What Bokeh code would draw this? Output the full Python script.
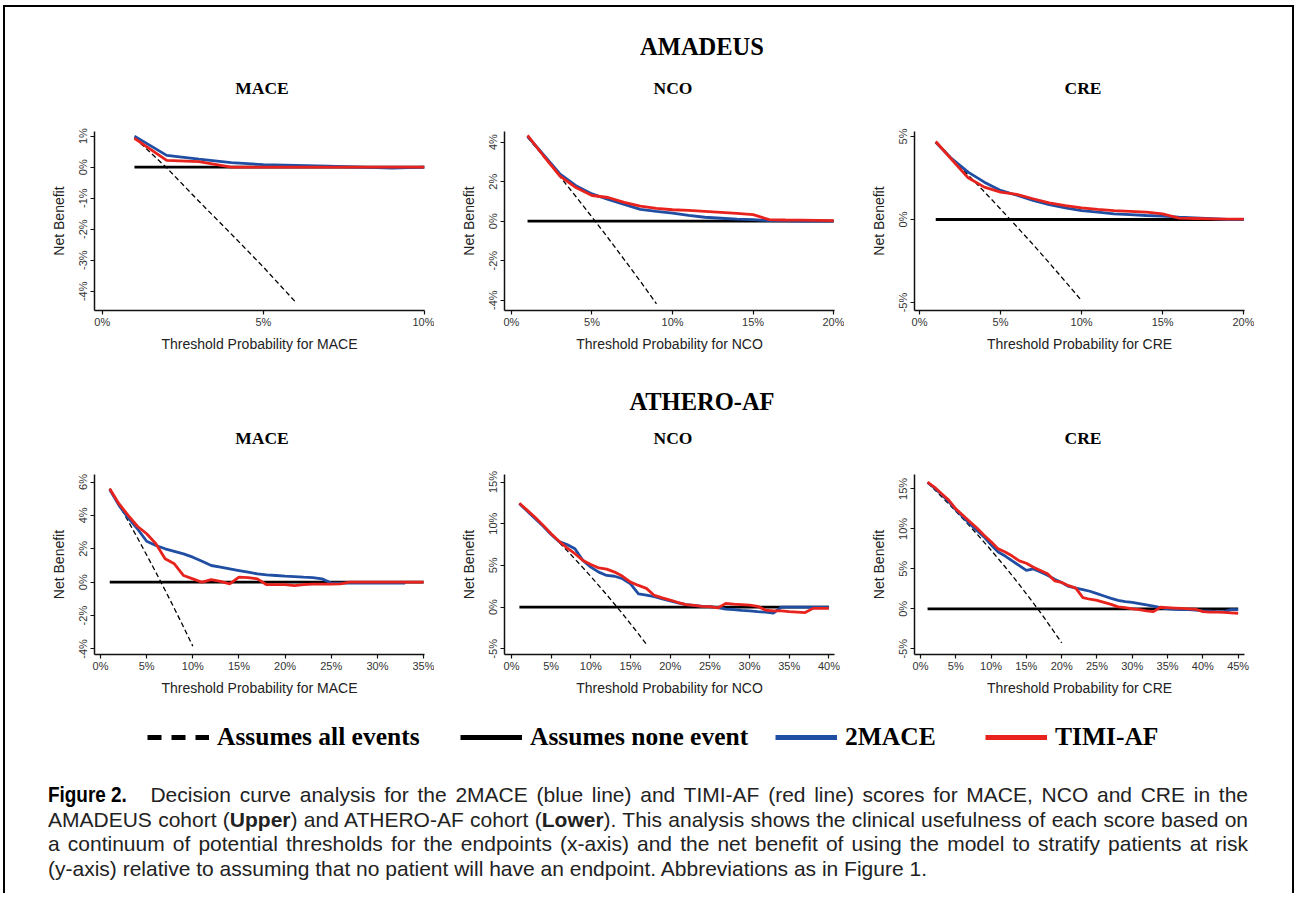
from bokeh.plotting import figure
from bokeh.models import (Range1d, FixedTicker, PrintfTickFormatter, Div, Legend,
                          LegendItem, ColumnDataSource, Spacer)
from bokeh.layouts import row, column
from bokeh.embed import file_html
from bokeh.resources import INLINE

# ---------------- data (percent units) ----------------
# AMADEUS - MACE
am_mace_x = [1, 2, 3, 4, 5, 6, 7, 8, 9, 10]
am_mace_2mace = [1.0, 0.38, 0.26, 0.15, 0.08, 0.06, 0.03, 0.0, -0.03, 0.0]
am_mace_timi = [0.93, 0.22, 0.18, 0.0, 0.0, 0.0, 0.0, 0.0, 0.0, 0.0]
am_mace_all_x = [1, 2, 3, 4, 5, 6]
am_mace_all_y = [0.95, -0.02, -1.1, -2.15, -3.22, -4.35]
am_mace_none_x = [1, 10]

# AMADEUS - NCO
am_nco_x = list(range(1, 21))
am_nco_2mace = [4.3, 3.35, 2.4, 1.8, 1.38, 1.1, 0.85, 0.6, 0.5, 0.41,
                0.3, 0.2, 0.15, 0.1, 0.08, 0.03, 0.02, 0.0, 0.0, 0.0]
am_nco_timi = [4.34, 3.3, 2.3, 1.7, 1.3, 1.2, 0.95, 0.76, 0.65, 0.58,
               0.55, 0.5, 0.45, 0.4, 0.33, 0.08, 0.06, 0.05, 0.04, 0.03]
am_nco_all_x = [1, 2, 3, 4, 5, 6, 7, 8, 9]
am_nco_all_y = [4.24, 3.27, 2.27, 1.25, 0.21, -0.85, -1.94, -3.04, -4.18]
am_nco_none_x = [1, 20]

# AMADEUS - CRE
am_cre_x = list(range(1, 21))
am_cre_2mace = [4.65, 3.65, 2.85, 2.25, 1.75, 1.46, 1.15, 0.89, 0.7, 0.54,
                0.44, 0.34, 0.29, 0.24, 0.2, 0.14, 0.1, 0.05, 0.0, 0.0]
am_cre_timi = [4.7, 3.6, 2.51, 1.95, 1.65, 1.51, 1.25, 1.0, 0.84, 0.7,
               0.61, 0.54, 0.49, 0.44, 0.34, 0.08, 0.06, 0.04, 0.02, 0.02]
am_cre_all_x = [1, 2, 3, 4, 5, 6, 7, 8, 9, 10]
am_cre_all_y = [4.65, 3.67, 2.68, 1.67, 0.63, -0.43, -1.5, -2.61, -3.74, -4.89]
am_cre_none_x = [1, 20]

# ATHERO-AF - MACE
at_mace_x = list(range(1, 36))
at_mace_2mace_x = list(range(1, 34))
at_mace_2mace = [5.55, 4.6, 3.85, 3.2, 2.45, 2.2, 2.0, 1.85, 1.7, 1.5,
                 1.25, 1.0, 0.9, 0.8, 0.7, 0.6, 0.5, 0.44, 0.4, 0.36,
                 0.33, 0.3, 0.28, 0.2, -0.05, -0.05, -0.05, -0.05, -0.05, -0.05,
                 -0.05, -0.05, -0.05]
at_mace_timi = [5.6, 4.7, 4.0, 3.35, 2.9, 2.3, 1.4, 1.1, 0.4, 0.2,
                0.0, 0.15, 0.05, -0.1, 0.3, 0.28, 0.2, -0.15, -0.15, -0.15,
                -0.2, -0.15, -0.12, -0.12, -0.12, -0.1, 0.0, 0.0, 0.0, 0.0,
                0.0, 0.0, 0.0, 0.0, 0.0]
at_mace_all_x = [1, 2, 3, 4, 5, 6, 7, 8, 9, 10]
at_mace_all_y = [5.61, 4.64, 3.66, 2.66, 1.63, 0.59, -0.48, -1.57, -2.69, -3.83]
at_mace_none_x = [1, 35]

# ATHERO-AF - NCO
at_nco_x = list(range(1, 41))
at_nco_2mace = [12.4, 11.5, 10.6, 9.7, 8.7, 7.85, 7.5, 7.0, 5.6, 4.8,
                4.2, 3.8, 3.7, 3.4, 2.8, 1.6, 1.45, 1.25, 1.0, 0.75,
                0.5, 0.3, 0.2, 0.1, 0.05, -0.05, -0.25, -0.3, -0.4, -0.45,
                -0.55, -0.6, -0.72, 0.0, 0.0, 0.0, 0.0, 0.0, 0.0, 0.0]
at_nco_timi = [12.45, 11.6, 10.75, 9.8, 8.8, 7.9, 7.1, 6.4, 5.6, 5.1,
               4.7, 4.55, 4.2, 3.7, 3.0, 2.6, 2.25, 1.4, 1.1, 0.85,
               0.55, 0.3, 0.2, 0.1, 0.05, -0.1, 0.45, 0.35, 0.3, 0.25,
               0.1, -0.35, -0.45, -0.45, -0.55, -0.6, -0.65, -0.15, -0.15, -0.15]
at_nco_all_x = list(range(1, 18))
at_nco_all_y = [12.42, 11.53, 10.62, 9.69, 8.74, 7.77, 6.77, 5.76, 4.73, 3.67,
                2.58, 1.48, 0.34, -0.81, -2.0, -3.21, -4.46]
at_nco_none_x = [1, 40]

# ATHERO-AF - CRE
at_cre_x = list(range(1, 46))
at_cre_2mace = [15.8, 15.1, 14.3, 13.4, 12.4, 11.5, 10.6, 9.8, 9.0, 8.0,
                7.1, 6.6, 6.0, 5.4, 4.8, 5.0, 4.6, 4.2, 3.7, 3.3,
                2.8, 2.6, 2.4, 2.2, 1.9, 1.6, 1.3, 1.05, 0.9, 0.8,
                0.65, 0.5, 0.35, 0.15, 0.0, -0.05, -0.1, -0.1, -0.15, -0.25,
                -0.3, -0.35, -0.35, -0.1, -0.1]
at_cre_timi = [15.85, 15.2, 14.4, 13.6, 12.5, 11.7, 10.9, 10.1, 9.2, 8.4,
               7.5, 7.1, 6.6, 6.0, 5.7, 5.2, 4.8, 4.4, 3.5, 3.3,
               2.9, 2.6, 1.4, 1.2, 1.05, 0.8, 0.55, 0.25, 0.15, 0.0,
               -0.1, -0.25, -0.35, 0.2, 0.15, 0.1, 0.05, 0.0, -0.05, -0.35,
               -0.4, -0.4, -0.45, -0.5, -0.55]
at_cre_all_x = list(range(1, 21))
at_cre_all_y = [15.76, 14.9, 14.02, 13.13, 12.21, 11.28, 10.32, 9.35, 8.35, 7.33,
                6.29, 5.23, 4.14, 3.02, 1.88, 0.71, -0.48, -1.71, -2.96, -4.25]
at_cre_none_x = [1, 45]

none_y = [0, 0]

# tick labels
xt_10 = [0, 5, 10]
xt_20 = [0, 5, 10, 15, 20]
xt_35 = [0, 5, 10, 15, 20, 25, 30, 35]
xt_40 = [0, 5, 10, 15, 20, 25, 30, 35, 40]
xt_45 = [0, 5, 10, 15, 20, 25, 30, 35, 40, 45]
yt_am_mace = [-4, -3, -2, -1, 0, 1]
yt_am_nco = [-4, -2, 0, 2, 4]
yt_am_cre = [-5, 0, 5]
yt_at_mace = [-4, -2, 0, 2, 4, 6]
yt_at_5 = [-5, 0, 5, 10, 15]

cohorts = ["AMADEUS", "ATHERO-AF"]
endpoints = ["MACE", "NCO", "CRE"]
legend_labels = ["Assumes all events", "Assumes none event", "2MACE", "TIMI-AF"]

BLUE = "#1f4ea3"
RED = "#e8231d"
SANS = "Liberation Sans"
SERIF = "Liberation Serif"


def panel(xlabel, xr, yr, xt, yt, x, blue_x, blue, red, all_x, all_y, none_x,
          height, top, bottom):
    p = figure(width=410, height=height, x_range=Range1d(*xr), y_range=Range1d(*yr),
               toolbar_location=None, output_backend="svg",
               min_border_left=70, min_border_right=10,
               min_border_top=top, min_border_bottom=bottom)
    p.outline_line_color = None
    p.grid.visible = False

    for ax in (p.xaxis[0], p.yaxis[0]):
        ax.axis_line_width = 1.5
        ax.axis_line_color = "#111111"
        ax.major_tick_line_color = "#111111"
        ax.major_tick_line_width = 1.2
        ax.major_tick_out = 4
        ax.major_tick_in = 0
        ax.minor_tick_line_color = None
        ax.major_label_text_font = SANS
        ax.major_label_text_font_size = "11px"
        ax.major_label_text_color = "#333333"
        ax.major_label_standoff = 1
        ax.axis_label_text_font = SANS
        ax.axis_label_text_font_size = "14px"
        ax.axis_label_text_font_style = "normal"
        ax.axis_label_text_color = "#222222"
        ax.formatter = PrintfTickFormatter(format="%d%%")
    p.xaxis.ticker = FixedTicker(ticks=xt)
    p.yaxis.ticker = FixedTicker(ticks=yt)
    p.xaxis.axis_label = xlabel
    p.yaxis.axis_label = "Net Benefit"
    p.yaxis.major_label_orientation = "vertical"
    p.xaxis.axis_label_standoff = 5
    p.yaxis.axis_label_standoff = 8

    p.line(none_x, none_y, line_color="black", line_width=2.8)
    p.line(all_x, all_y, line_color="black", line_width=1.3, line_dash="5 3")
    p.line(blue_x, blue, line_color=BLUE, line_width=2.8)
    p.line(x, red, line_color=RED, line_width=2.8)
    return p


H1, T1, B1 = 265, 26, 60
H2, T2, B2 = 255, 19, 56

f1 = panel("Threshold Probability for MACE", (-0.24, 10.0), (-4.62, 1.15),
           xt_10, yt_am_mace, am_mace_x, am_mace_x, am_mace_2mace, am_mace_timi,
           am_mace_all_x, am_mace_all_y, am_mace_none_x, H1, T1, B1)
f2 = panel("Threshold Probability for NCO", (-0.43, 20.05), (-4.52, 4.54),
           xt_20, yt_am_nco, am_nco_x, am_nco_x, am_nco_2mace, am_nco_timi,
           am_nco_all_x, am_nco_all_y, am_nco_none_x, H1, T1, B1)
f3 = panel("Threshold Probability for CRE", (-0.31, 20.05), (-5.48, 5.3),
           xt_20, yt_am_cre, am_cre_x, am_cre_x, am_cre_2mace, am_cre_timi,
           am_cre_all_x, am_cre_all_y, am_cre_none_x, H1, T1, B1)
f4 = panel("Threshold Probability for MACE", (-0.65, 35.1), (-4.33, 6.45),
           xt_35, yt_at_mace, at_mace_x, at_mace_2mace_x, at_mace_2mace, at_mace_timi,
           at_mace_all_x, at_mace_all_y, at_mace_none_x, H2, T2, B2)
f5 = panel("Threshold Probability for NCO", (-0.88, 40.7), (-5.68, 15.9),
           xt_40, yt_at_5, at_nco_x, at_nco_x, at_nco_2mace, at_nco_timi,
           at_nco_all_x, at_nco_all_y, at_nco_none_x, H2, T2, B2)
f6 = panel("Threshold Probability for CRE", (-0.85, 45.9), (-5.71, 16.8),
           xt_45, yt_at_5, at_cre_x, at_cre_x, at_cre_2mace, at_cre_timi,
           at_cre_all_x, at_cre_all_y, at_cre_none_x, H2, T2, B2)

CW = 1287  # content width

# ---------------- legend strip ----------------
lg = figure(width=CW, height=55, x_range=Range1d(0, 1), y_range=Range1d(0, 1),
            toolbar_location=None, output_backend="svg", x_axis_type=None, y_axis_type=None,
            min_border=0)
lg.outline_line_color = None
lg.grid.visible = False
nan = float("nan")
blank = lambda: ColumnDataSource(data=dict(x=[nan], y=[nan]))
r_all = lg.line("x", "y", source=blank(), line_color="black", line_width=5, line_dash="14 10")
r_none = lg.line("x", "y", source=blank(), line_color="black", line_width=5)
r_blue = lg.line("x", "y", source=blank(), line_color=BLUE, line_width=5)
r_red = lg.line("x", "y", source=blank(), line_color=RED, line_width=5)
legend_x = [142, 455, 770, 980]
for lab, r, lx in zip(legend_labels, [r_all, r_none, r_blue, r_red], legend_x):
    leg = Legend(items=[LegendItem(label=lab, renderers=[r])], location=(lx, 13),
                 padding=0, margin=0, border_line_color=None, background_fill_alpha=0,
                 glyph_width=62, glyph_height=24, label_standoff=8,
                 label_text_font=SERIF, label_text_font_style="bold",
                 label_text_font_size="25.5px", label_text_color="black")
    lg.add_layout(leg)

# ---------------- headers (cohort + panel titles) ----------------
def lab(text, cx, cy, fs):
    return (f"<div style=\"position:absolute;left:{cx - 150}px;top:{cy - 20}px;width:300px;"
            f"height:40px;line-height:40px;text-align:center;white-space:nowrap;"
            f"font-family:'{SERIF}',serif;font-weight:bold;font-size:{fs}px;color:black;\">"
            f"{text}</div>")

panel_cx = [257, 668, 1078]


def header(cohort, h, cy_big, cy_small):
    inner = lab(cohort, 697, cy_big, 24.5)
    inner += "".join(lab(e, cx, cy_small, 17.5) for e, cx in zip(endpoints, panel_cx))
    return Div(text=f"<div style=\"position:relative;width:{CW}px;height:{h}px;\">{inner}</div>",
               width=CW, height=h, margin=(0, 0, 0, 0))

hdr1 = header(cohorts[0], 98, 40, 81)
hdr2 = header(cohorts[1], 85, 32, 68)

# ---------------- caption ----------------
cap_lines = [
    "Decision curve analysis for the 2MACE (blue line) and TIMI-AF (red line) scores for MACE, NCO and CRE in the",
    "AMADEUS cohort (<b>Upper</b>) and ATHERO-AF cohort (<b>Lower</b>). This analysis shows the clinical usefulness of each score based on",
    "a continuum of potential thresholds for the endpoints (x-axis) and the net benefit of using the model to stratify patients at risk",
    "(y-axis) relative to assuming that no patient will have an endpoint. Abbreviations as in Figure 1.",
]
jst = "text-align:justify;text-align-last:justify;white-space:nowrap;"
cap_html = (
    f"<div style=\"width:1200px;margin-left:43px;padding-top:18px;font-family:'{SANS}',Arial,sans-serif;"
    f"font-size:21px;line-height:24.5px;color:#222;\">"
    f"<div style=\"{jst}\"><span style=\"display:inline-block;transform:scaleX(0.86);"
    f"transform-origin:left center;margin-right:2px;"
    f"font-family:'{SANS}',sans-serif;font-weight:bold;font-size:22px;color:#000;\">Figure 2.</span> "
    f"{cap_lines[0]}</div>"
    f"<div style=\"{jst}\">{cap_lines[1]}</div>"
    f"<div style=\"{jst}\">{cap_lines[2]}</div>"
    f"<div style=\"white-space:nowrap;\">{cap_lines[3]}</div>"
    f"</div>"
)
caption = Div(text=cap_html, width=CW, height=128, margin=(0, 0, 0, 0))

row1 = row(Spacer(width=19, height=H1), f1, f2, f3, Spacer(width=38, height=H1))
row2 = row(Spacer(width=19, height=H2), f4, f5, f6, Spacer(width=38, height=H2))
content = column(hdr1, row1, hdr2, row2, lg, caption)
CH = 98 + H1 + 85 + H2 + 55 + 128

blk = {"background-color": "black"}
top_border = Div(text="", width=CW + 4, height=2, margin=(0, 0, 0, 0), styles=blk)
left_border = Div(text="", width=2, height=CH, margin=(0, 0, 0, 0), styles=blk)
right_border = Div(text="", width=2, height=CH, margin=(0, 0, 0, 0), styles=blk)

inner = column(top_border, row(left_border, content, right_border))
layout = column(Spacer(width=10, height=5), row(Spacer(width=3, height=10), inner))

open("out.html", "w").write(file_html(layout, INLINE))
